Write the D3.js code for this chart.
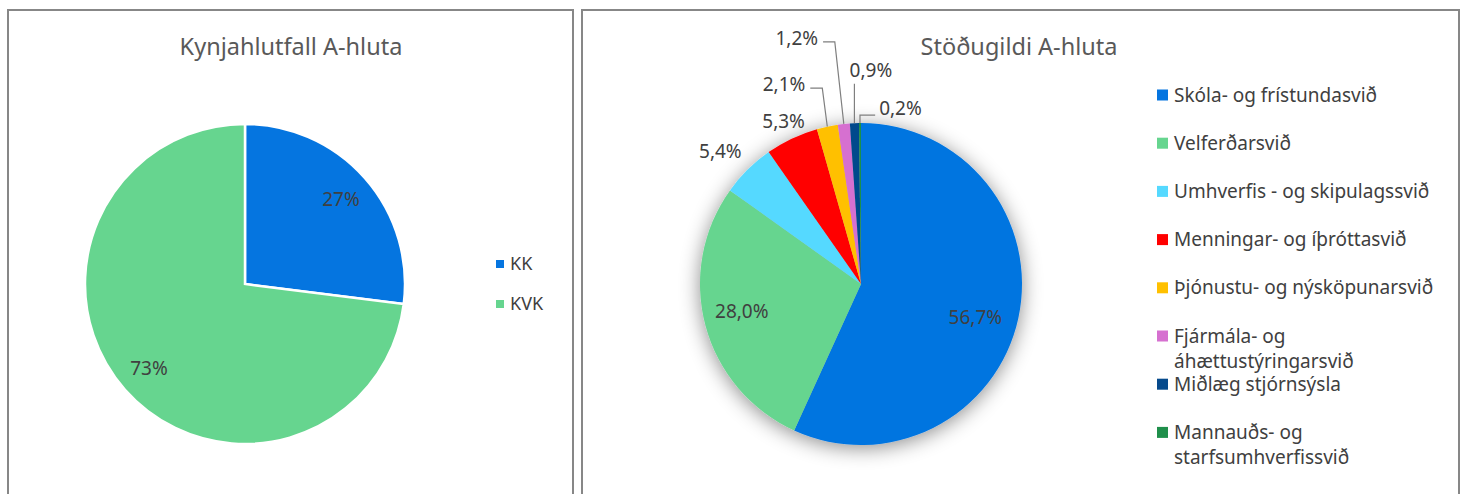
<!DOCTYPE html>
<html>
<head>
<meta charset="utf-8">
<script src="https://cdn.jsdelivr.net/npm/d3@7"></script>
<style>
  body { margin: 0; background: #fff; }
  text { font-family: "Noto Sans", sans-serif; }
</style>
</head>
<body>
<div class="canvas"></div>
<script>
// data - left chart
const genderCats = ['KK', 'KVK'];
const genderVals = [27, 73];
const genderColors = ['#0575E0', '#66D58F'];

// data - right chart
const unitCats = [
  'Skóla- og frístundasvið',
  'Velferðarsvið',
  'Umhverfis - og skipulagssvið',
  'Menningar- og íþróttasvið',
  'Þjónustu- og nýsköpunarsvið',
  'Fjármála- og áhættustýringarsvið',
  'Miðlæg stjórnsýsla',
  'Mannauðs- og starfsumhverfissvið'
];
const unitVals = [56.7, 28.0, 5.4, 5.3, 2.1, 1.2, 0.9, 0.2];
const unitLabels = ['56,7%', '28,0%', '5,4%', '5,3%', '2,1%', '1,2%', '0,9%', '0,2%'];
const unitColors = ['#0575E0', '#66D58F', '#55D9FF', '#FF0000', '#FFC000', '#D670D0', '#064A8C', '#1F8F4B'];
// legend wrapping as in the original
const unitLegendLines = [
  ['Skóla- og frístundasvið'],
  ['Velferðarsvið'],
  ['Umhverfis - og skipulagssvið'],
  ['Menningar- og íþróttasvið'],
  ['Þjónustu- og nýsköpunarsvið'],
  ['Fjármála- og', 'áhættustýringarsvið'],
  ['Miðlæg stjórnsýsla'],
  ['Mannauðs- og', 'starfsumhverfissvið']
];

const W = 1465, H = 494;
const svg = d3.select('.canvas')
  .append('svg')
  .attr('width', W)
  .attr('height', H);

// drop shadow for right pie
const defs = svg.append('defs');
defs.append('filter')
  .attr('id', 'shadow')
  .attr('x', '-30%').attr('y', '-30%')
  .attr('width', '160%').attr('height', '160%')
  .append('feDropShadow')
  .attr('dx', 0).attr('dy', 3)
  .attr('stdDeviation', 10)
  .attr('flood-color', '#000')
  .attr('flood-opacity', 0.45);

// panel frames
svg.append('rect')
  .attr('x', 8).attr('y', 10)
  .attr('width', 565).attr('height', 500)
  .attr('fill', 'none').attr('stroke', '#878787').attr('stroke-width', 2);
svg.append('rect')
  .attr('x', 582).attr('y', 10)
  .attr('width', 877).attr('height', 500)
  .attr('fill', 'none').attr('stroke', '#878787').attr('stroke-width', 2);

const pie = d3.pie().sort(null).value(d => d);

// ---------- left chart ----------
const leftR = 160;
const left = svg.append('g').attr('transform', 'translate(245, 284)');

svg.append('text')
  .attr('x', 291).attr('y', 55)
  .attr('text-anchor', 'middle')
  .attr('font-size', 23.5)
  .attr('fill', '#595959')
  .text('Kynjahlutfall A-hluta');

const leftArc = d3.arc().innerRadius(0).outerRadius(leftR);
const leftLabelArc = d3.arc().innerRadius(leftR * 0.8).outerRadius(leftR * 0.8);

left.selectAll('path')
  .data(pie(genderVals))
  .enter()
  .append('path')
  .attr('d', leftArc)
  .attr('fill', (d, i) => genderColors[i])
  .attr('stroke', '#fff')
  .attr('stroke-width', 2.5);

left.selectAll('text')
  .data(pie(genderVals))
  .enter()
  .append('text')
  .attr('transform', d => `translate(${leftLabelArc.centroid(d)})`)
  .attr('text-anchor', 'middle')
  .attr('dy', '0.35em')
  .attr('font-size', 19)
  .attr('fill', '#404040')
  .text(d => d.data + '%');

const leftLegend = svg.append('g').attr('transform', 'translate(496, 264)');
genderCats.forEach((c, i) => {
  const row = leftLegend.append('g').attr('transform', `translate(0, ${i * 40})`);
  row.append('rect')
    .attr('x', 0).attr('y', -4)
    .attr('width', 8).attr('height', 8)
    .attr('fill', genderColors[i]);
  row.append('text')
    .attr('x', 14).attr('dy', '0.35em')
    .attr('font-size', 18)
    .attr('fill', '#404040')
    .text(c);
});

// ---------- right chart ----------
const rightR = 161;
const right = svg.append('g').attr('transform', 'translate(861, 284)');

svg.append('text')
  .attr('x', 1019).attr('y', 55)
  .attr('text-anchor', 'middle')
  .attr('font-size', 23.5)
  .attr('fill', '#595959')
  .text('Stöðugildi A-hluta');

const rightArc = d3.arc().innerRadius(0).outerRadius(rightR);
const arcs = pie(unitVals);

right.append('g')
  .attr('filter', 'url(#shadow)')
  .selectAll('path')
  .data(arcs)
  .enter()
  .append('path')
  .attr('d', rightArc)
  .attr('fill', (d, i) => unitColors[i]);

// label placement: radius factor, angle shift (deg), leader side
const labelPlace = [
  { k: 0.74, da: 4 },
  { k: 0.76, da: 2 },
  { k: 1.2, da: -2 },
  { k: 1.12, da: 0 },
  { k: 1.33, da: -9, lead: 'left' },
  { k: 1.58, da: -8.5, lead: 'left' },
  { k: 1.33, da: 5, lead: 'up' },
  { k: 1.12, da: 13, lead: 'right' }
];

const polar = (a, r) => [Math.sin(a) * r, -Math.cos(a) * r];

arcs.forEach((d, i) => {
  const p = labelPlace[i];
  const mid = (d.startAngle + d.endAngle) / 2;
  const [lx, ly] = polar(mid + p.da * Math.PI / 180, rightR * p.k);
  const t = right.append('text')
    .attr('x', lx).attr('y', ly)
    .attr('text-anchor', 'middle')
    .attr('dy', '0.35em')
    .attr('font-size', 19)
    .attr('fill', '#404040')
    .text(unitLabels[i]);

  if (p.lead) {
    const bb = t.node().getBBox();
    const [sx, sy] = polar(mid, rightR);
    let pts;
    if (p.lead === 'left') {
      const ex = bb.x + bb.width + 5;
      pts = [[sx, sy], [sx - 5 - (i === 5 ? 4 : 0), ly + 4], [ex, ly + 4]];
    } else if (p.lead === 'right') {
      pts = [[sx, sy], [sx, ly + 7], [bb.x - 4, ly + 7]];
    } else {
      pts = [[sx, sy], [sx, bb.y + bb.height + 1]];
    }
    right.append('path')
      .attr('d', d3.line()(pts))
      .attr('fill', 'none')
      .attr('stroke', '#7f7f7f')
      .attr('stroke-width', 1.2);
  }
});

const rightLegend = svg.append('g').attr('transform', 'translate(1157, 95)');
unitCats.forEach((c, i) => {
  const row = rightLegend.append('g').attr('transform', `translate(0, ${i * 48.2})`);
  row.append('rect')
    .attr('x', 0).attr('y', -5.5)
    .attr('width', 11).attr('height', 11)
    .attr('fill', unitColors[i]);
  unitLegendLines[i].forEach((line, j) => {
    row.append('text')
      .attr('x', 17).attr('y', j * 25)
      .attr('dy', '0.35em')
      .attr('font-size', 19)
      .attr('fill', '#404040')
      .text(line);
  });
});
</script>
</body>
</html>
